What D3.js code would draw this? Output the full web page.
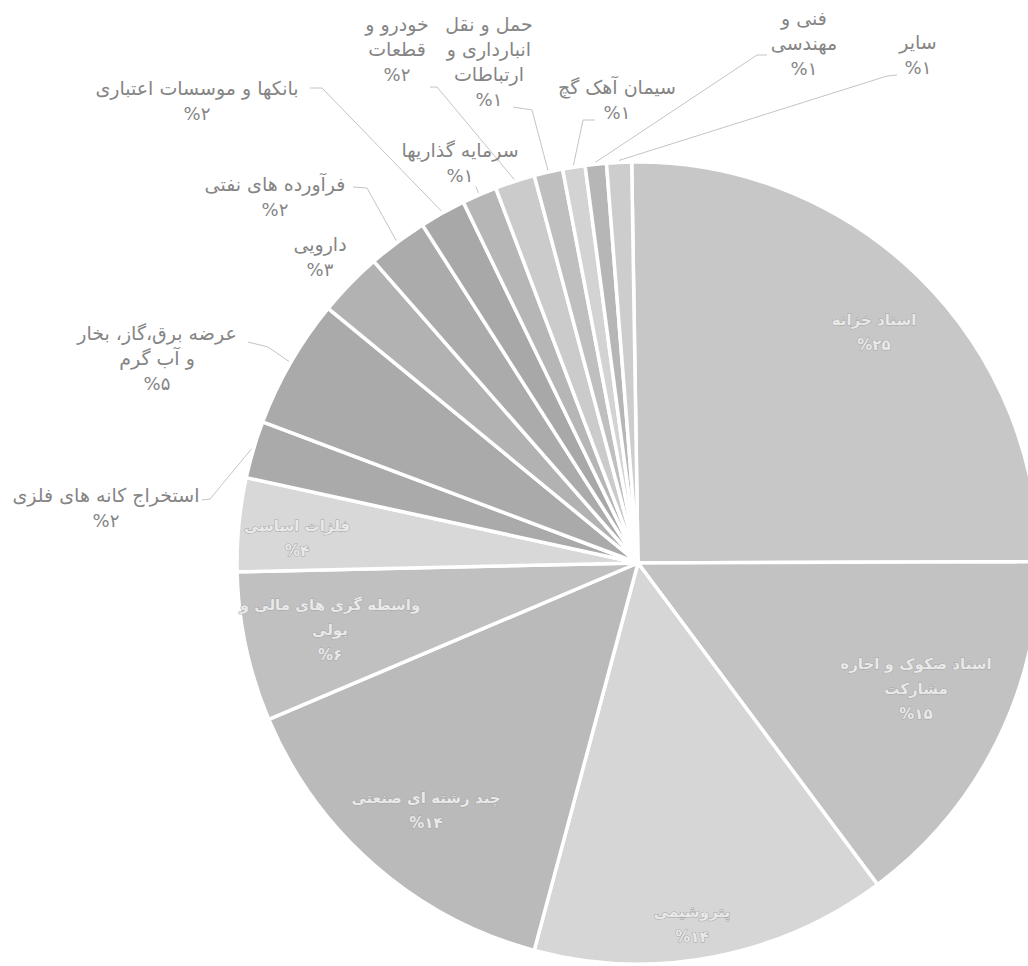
<!DOCTYPE html>
<html>
<head>
<meta charset="utf-8">
<style>
  body { margin: 0; background: #fff; }
  svg { display: block; }
  .lbl { font-family: "DejaVu Sans", sans-serif; font-size: 19px; }
  .lbl .pct { font-size: 18px; }
  .lbl.in { font-size: 15px; font-weight: bold; }
  .lbl.in .pct { font-size: 15px; }
</style>
</head>
<body>
<script src="https://cdn.jsdelivr.net/npm/d3@7/dist/d3.min.js"></script>
<script>
// industries, clockwise from 12 o'clock; "\n" marks the label line breaks
var categories = [
  "اسناد خزانه",
  "اسناد صکوک و اجاره\nمشارکت",
  "پتروشیمی",
  "چند رشته ای صنعتی",
  "واسطه گری های مالی و\nپولی",
  "فلزات اساسی",
  "استخراج کانه های فلزی",
  "عرضه برق،گاز، بخار\nو آب گرم",
  "دارویی",
  "فرآورده های نفتی",
  "بانکها و موسسات اعتباری",
  "سرمایه گذاریها",
  "خودرو و\nقطعات",
  "حمل و نقل\nانبارداری و\nارتباطات",
  "سیمان آهک گچ",
  "فنی و\nمهندسی",
  "سایر"
];
// share of portfolio (%)
var values = [25.1, 14.8, 14.3, 14.4, 6.0, 3.75, 2.3, 5.2, 2.6, 2.4, 1.85, 1.4, 1.6, 1.15, 0.9, 0.85, 1.0];

var palette = ["#c7c7c7","#c2c2c2","#d6d6d6","#bababa","#c0c0c0","#d8d8d8","#aaaaaa","#aaaaaa",
               "#b2b2b2","#ababab","#a8a8a8","#b6b6b6","#cbcbcb","#bfbfbf","#d3d3d3","#b6b6b6","#cdcdcd"];

// label placement: centre of first line, optional leader (elbow, end)
var layout = [
  {x: 874, y: 320, inside: true},
  {x: 916, y: 664, inside: true},
  {x: 692, y: 912, inside: true},
  {x: 426, y: 798, inside: true},
  {x: 330, y: 605, inside: true},
  {x: 297, y: 526, inside: true},
  {x: 106, y: 495, elbow: [210, 499], end: [202, 500]},
  {x: 157, y: 333, elbow: [268, 347], end: [248, 342]},
  {x: 320, y: 244},
  {x: 275, y: 184, elbow: [367, 188], end: [353, 187]},
  {x: 197, y: 88, elbow: [322, 88], end: [310, 88]},
  {x: 460, y: 150, tick: true},
  {x: 397, y: 24, elbow: [437, 87], end: [430, 87]},
  {x: 489, y: 24, elbow: [532, 110], end: [513, 107]},
  {x: 617, y: 87, elbow: [583, 120], end: [595, 120]},
  {x: 804, y: 18, elbow: [757, 55], end: [767, 55]},
  {x: 918, y: 42, elbow: [887, 76], end: [897, 75]}
];

var width = 1028, height = 966;
var cx = 638, cy = 563, radius = 401;
var lineH = 25;

var faDigits = "۰۱۲۳۴۵۶۷۸۹";
function fa(n) { return String(n).replace(/\d/g, function(d) { return faDigits[+d]; }); }

var data = categories.map(function(c, i) { return {name: c, value: values[i], i: i}; });
var total = d3.sum(values);

var color = d3.scaleOrdinal().domain(d3.range(categories.length)).range(palette);

var start = -0.9 * Math.PI / 180;
var pie = d3.pie().sort(null).value(function(d) { return d.value; })
  .startAngle(start).endAngle(start + 2 * Math.PI);
var arcs = pie(data);

var arc = d3.arc().innerRadius(0).outerRadius(radius);
var rim = d3.arc().innerRadius(radius + 2).outerRadius(radius + 2);
var rimOut = d3.arc().innerRadius(radius + 9).outerRadius(radius + 9);

var svg = d3.select("body").append("svg")
  .attr("width", width)
  .attr("height", height);

var g = svg.append("g").attr("transform", "translate(" + cx + "," + cy + ")");

g.selectAll("path.slice")
  .data(arcs)
  .enter().append("path")
    .attr("class", "slice")
    .attr("d", arc)
    .attr("fill", function(d) { return color(d.data.i); })
    .attr("stroke", "#fff")
    .attr("stroke-width", 3.5)
    .attr("stroke-linejoin", "round");

// leader lines
var line = d3.line();
svg.selectAll("path.leader")
  .data(arcs.filter(function(d) { return layout[d.data.i].elbow || layout[d.data.i].tick; }))
  .enter().append("path")
    .attr("class", "leader")
    .attr("fill", "none")
    .attr("stroke", "#c4c4c4")
    .attr("stroke-width", 1)
    .attr("d", function(d) {
      var L = layout[d.data.i];
      var p = rim.centroid(d);
      var a = [p[0] + cx, p[1] + cy];
      if (L.tick) {
        var q = rimOut.centroid(d);
        return line([a, [q[0] + cx, q[1] + cy]]);
      }
      return line([a, L.elbow, L.end]);
    });

// labels
var labels = svg.selectAll("text.lbl")
  .data(arcs)
  .enter().append("text")
    .attr("class", function(d) { return layout[d.data.i].inside ? "lbl in" : "lbl"; })
    .attr("text-anchor", "middle")
    .attr("direction", "rtl")
    .attr("fill", function(d) { return layout[d.data.i].inside ? "#e9e9e9" : "#858585"; })
    .attr("stroke", function(d) { return layout[d.data.i].inside ? "#a6a6a6" : "none"; })
    .attr("stroke-width", 1)
    .style("paint-order", "stroke");

labels.each(function(d) {
  var L = layout[d.data.i];
  var lines = d.data.name.split("\n");
  var t = d3.select(this);
  lines.forEach(function(s, k) {
    t.append("tspan")
      .attr("x", L.x)
      .attr("y", L.y + k * lineH)
      .attr("dominant-baseline", "central")
      .text(s);
  });
  t.append("tspan")
    .attr("class", "pct")
    .attr("x", L.x)
    .attr("y", L.y + lines.length * lineH)
    .attr("dominant-baseline", "central")
    .text("%" + fa(Math.round(d.data.value / total * 100)));
});
</script>
</body>
</html>
